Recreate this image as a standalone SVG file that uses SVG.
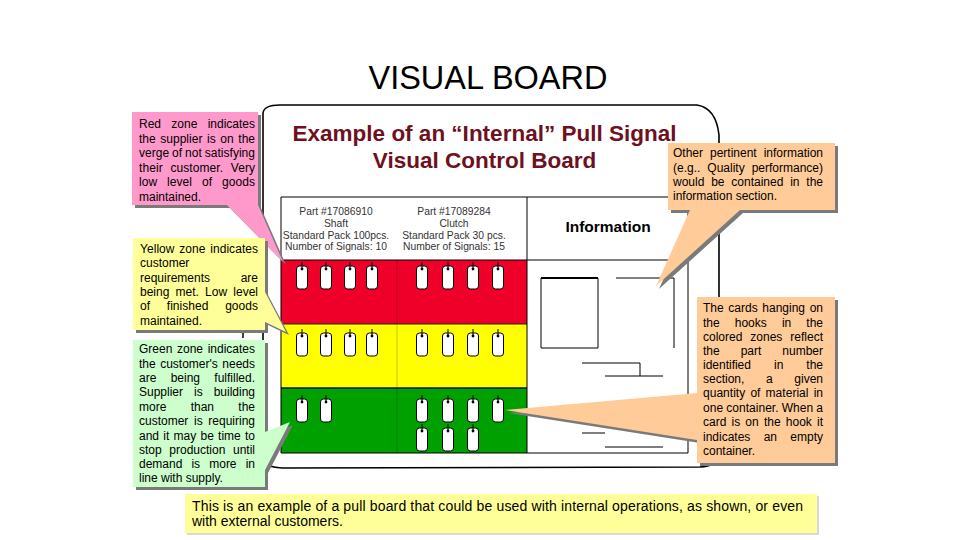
<svg xmlns="http://www.w3.org/2000/svg" width="960" height="540" viewBox="0 0 960 540">
<style>
.t{font-family:"Liberation Sans",Arial,sans-serif;font-size:12px;fill:#000}
.ph{font-family:"Liberation Sans",Arial,sans-serif;font-size:10.3px;fill:#333;text-anchor:middle}
.sh{fill:#7a7a7a}
.ln{stroke:#000;stroke-width:1;fill:none}
.bt{font-family:"Liberation Sans",Arial,sans-serif;font-weight:bold;fill:#6e1020;text-anchor:middle;font-size:22.5px}
</style>
<defs>
<g id="card">
<rect x="-5.5" y="0" width="11" height="23" rx="3" fill="#fff" stroke="#000" stroke-width="1"/>
<line x1="0" y1="-4" x2="0" y2="4" stroke="#000" stroke-width="1"/>
<circle cx="0" cy="3" r="1.4" fill="#000"/>
</g>
</defs>
<rect width="960" height="540" fill="#fff"/>
<text x="488" y="89" font-family="Liberation Sans, Arial, sans-serif" font-size="32.5" text-anchor="middle" fill="#000">VISUAL BOARD</text>

<g id="board">
<path d="M263,462 L263,113 Q264,105 280,105 L697,105 Q716,108 719,135 L719,455 Q717,466 700,467 L282,468 Q267,467 263,462 Z" fill="#fff" stroke="#000" stroke-width="1.6"/>
<text class="bt" x="484.5" y="141">Example of an “Internal” Pull Signal</text>
<text class="bt" x="484.5" y="168">Visual Control Board</text>
<rect x="281" y="260" width="246" height="64" fill="#ee0028"/>
<rect x="281" y="324" width="246" height="64" fill="#ffff00"/>
<rect x="281" y="388" width="246" height="65" fill="#00a000"/>
<line x1="397" y1="260" x2="397" y2="324" stroke="#b8001c" stroke-width="1"/>
<line x1="397" y1="324" x2="397" y2="388" stroke="#c4c400" stroke-width="1"/>
<line x1="397" y1="388" x2="397" y2="453" stroke="#007a00" stroke-width="1"/>
<line x1="281" y1="324" x2="527" y2="324" stroke="#222" stroke-width="1"/>
<line x1="281" y1="388" x2="527" y2="388" stroke="#111" stroke-width="1.5"/>
<path class="ln" d="M281,197 H688 V453 H281 Z M527,197 V453 M281,260 H688"/>
<text class="ph" x="336" y="215">Part #17086910</text>
<text class="ph" x="336" y="227">Shaft</text>
<text class="ph" x="336" y="239">Standard Pack  100pcs.</text>
<text class="ph" x="336" y="250">Number of Signals: 10</text>
<text class="ph" x="454" y="215">Part #17089284</text>
<text class="ph" x="454" y="227">Clutch</text>
<text class="ph" x="454" y="239">Standard Pack  30 pcs.</text>
<text class="ph" x="454" y="250">Number of Signals: 15</text>
<text x="608" y="232" font-family="Liberation Sans, Arial, sans-serif" font-weight="bold" font-size="15.5" text-anchor="middle" fill="#000">Information</text>
<path d="M541,278 H598 V348 H541 Z" fill="none" stroke="#000" stroke-width="1"/>
<line x1="541" y1="278" x2="598" y2="278" stroke="#000" stroke-width="2"/>
<path class="ln" d="M616,278 H674 V348"/>
<path class="ln" d="M582,363 H640 V376 M605,376 H663"/>
<path class="ln" d="M582,433 H605 M605,447 H663"/>
<use href="#card" x="302" y="266"/><use href="#card" x="326" y="266"/><use href="#card" x="350" y="266"/><use href="#card" x="372" y="266"/>
<use href="#card" x="422" y="266"/><use href="#card" x="448" y="266"/><use href="#card" x="473" y="266"/><use href="#card" x="498" y="266"/>
<use href="#card" x="302" y="333"/><use href="#card" x="326" y="333"/><use href="#card" x="350" y="333"/><use href="#card" x="372" y="333"/>
<use href="#card" x="422" y="333"/><use href="#card" x="448" y="333"/><use href="#card" x="473" y="333"/><use href="#card" x="498" y="333"/>
<use href="#card" x="302" y="399"/><use href="#card" x="326" y="399"/>
<use href="#card" x="422" y="399"/><use href="#card" x="448" y="399"/><use href="#card" x="473" y="399"/><use href="#card" x="498" y="399"/>
<use href="#card" x="422" y="428"/><use href="#card" x="448" y="428"/><use href="#card" x="473" y="428"/>
</g>

<line x1="243" y1="326" x2="243" y2="338" stroke="#000" stroke-width="1.5"/>

<g id="callout-red">
<path class="sh" transform="translate(3,3)" d="M132,112 H258 V205 L283,262 L227,205 H132 Z"/>
<path d="M132,112 H258 V205 L283,262 L227,205 H132 Z" fill="#ff99cc"/>
<text class="t" x="139" y="128" word-spacing="7" textLength="116" lengthAdjust="spacing">Red zone indicates</text>
<text class="t" x="139" y="143" word-spacing="1.3" textLength="116" lengthAdjust="spacing">the supplier is on the</text>
<text class="t" x="139" y="157" word-spacing="-0.5" textLength="116" lengthAdjust="spacing">verge of not satisfying</text>
<text class="t" x="139" y="172" word-spacing="4.3" textLength="116" lengthAdjust="spacing">their customer. Very</text>
<text class="t" x="139" y="186" word-spacing="6.6" textLength="116" lengthAdjust="spacing">low level of goods</text>
<text class="t" x="139" y="201">maintained.</text>
</g>

<g id="callout-yellow">
<path class="sh" transform="translate(3,3)" d="M133,238 H265 V292 L286,332 L265,322 V330 H133 Z"/>
<path d="M133,238 H265 V292 L286,332 L265,322 V330 H133 Z" fill="#ffff99"/>
<text class="t" x="140" y="253" word-spacing="1.3" textLength="118" lengthAdjust="spacing">Yellow zone indicates</text>
<text class="t" x="140" y="267">customer</text>
<text class="t" x="140" y="282" word-spacing="27.3" textLength="118" lengthAdjust="spacing">requirements are</text>
<text class="t" x="140" y="296" word-spacing="2.9" textLength="118" lengthAdjust="spacing">being met. Low level</text>
<text class="t" x="140" y="310" word-spacing="13.3" textLength="118" lengthAdjust="spacing">of finished goods</text>
<text class="t" x="140" y="325">maintained.</text>
</g>

<g id="callout-green">
<path class="sh" transform="translate(3,3)" d="M133,340 H265 V432 L290,422 L265,470 V487 H133 Z"/>
<path d="M133,340 H265 V432 L290,422 L265,470 V487 H133 Z" fill="#ccffcc"/>
<text class="t" x="139" y="353" word-spacing="1.3" textLength="116" lengthAdjust="spacing">Green zone indicates</text>
<text class="t" x="139" y="368" word-spacing="1.2" textLength="116" lengthAdjust="spacing">the customer's needs</text>
<text class="t" x="139" y="382" word-spacing="11" textLength="116" lengthAdjust="spacing">are being fulfilled.</text>
<text class="t" x="139" y="396" word-spacing="7.7" textLength="116" lengthAdjust="spacing">Supplier is building</text>
<text class="t" x="139" y="411" word-spacing="21" textLength="116" lengthAdjust="spacing">more than the</text>
<text class="t" x="139" y="425" word-spacing="2.3" textLength="116" lengthAdjust="spacing">customer is requiring</text>
<text class="t" x="139" y="440" word-spacing="0.9" textLength="116" lengthAdjust="spacing">and it may be time to</text>
<text class="t" x="139" y="454" word-spacing="4.3" textLength="116" lengthAdjust="spacing">stop production until</text>
<text class="t" x="139" y="468" word-spacing="5.8" textLength="116" lengthAdjust="spacing">demand is more in</text>
<text class="t" x="139" y="482">line with supply.</text>
</g>

<g id="callout-info">
<path class="sh" transform="translate(3,3)" d="M668,143 H835 V210 H740 L656,286 L690,210 H668 Z"/>
<path d="M668,143 H835 V210 H740 L656,286 L690,210 H668 Z" fill="#ffcc99"/>
<text class="t" x="673" y="157" word-spacing="3.7" textLength="150" lengthAdjust="spacing">Other pertinent information</text>
<text class="t" x="673" y="172" word-spacing="3.7" textLength="150" lengthAdjust="spacing">(e.g.. Quality performance)</text>
<text class="t" x="673" y="186" word-spacing="3.5" textLength="150" lengthAdjust="spacing">would be contained in the</text>
<text class="t" x="673" y="200">information section.</text>
</g>

<g id="callout-cards">
<path class="sh" transform="translate(3,3)" d="M697,297 H835 V463 H697 V440 L505,410 L697,393 Z"/>
<path d="M697,297 H835 V463 H697 V440 L505,410 L697,393 Z" fill="#ffcc99"/>
<text class="t" x="703" y="312" word-spacing="1.3" textLength="120" lengthAdjust="spacing">The cards hanging on</text>
<text class="t" x="703" y="327" word-spacing="11.8" textLength="120" lengthAdjust="spacing">the hooks in the</text>
<text class="t" x="703" y="341" word-spacing="4.7" textLength="120" lengthAdjust="spacing">colored zones reflect</text>
<text class="t" x="703" y="355" word-spacing="17.7" textLength="120" lengthAdjust="spacing">the part number</text>
<text class="t" x="703" y="369" word-spacing="19.7" textLength="120" lengthAdjust="spacing">identified in the</text>
<text class="t" x="703" y="383" word-spacing="18.3" textLength="120" lengthAdjust="spacing">section, a given</text>
<text class="t" x="703" y="397" word-spacing="1.8" textLength="120" lengthAdjust="spacing">quantity of material in</text>
<text class="t" x="703" y="412" word-spacing="-0.2" textLength="120" lengthAdjust="spacing">one container. When a</text>
<text class="t" x="703" y="426" word-spacing="1.9" textLength="120" lengthAdjust="spacing">card is on the hook it</text>
<text class="t" x="703" y="441" word-spacing="10" textLength="120" lengthAdjust="spacing">indicates an empty</text>
<text class="t" x="703" y="455">container.</text>
</g>

<g id="note-bottom">
<rect x="187" y="496" width="632" height="39" fill="#d8d8d8"/>
<rect x="185" y="494" width="632" height="39" fill="#ffff99"/>
<text x="192" y="511" font-family="Liberation Sans, Arial, sans-serif" font-size="14" fill="#000" textLength="611" lengthAdjust="spacing">This is an example of a pull board that could be used with internal operations, as shown, or even</text>
<text x="192" y="526" font-family="Liberation Sans, Arial, sans-serif" font-size="14" fill="#000">with external customers.</text>
</g>
</svg>
